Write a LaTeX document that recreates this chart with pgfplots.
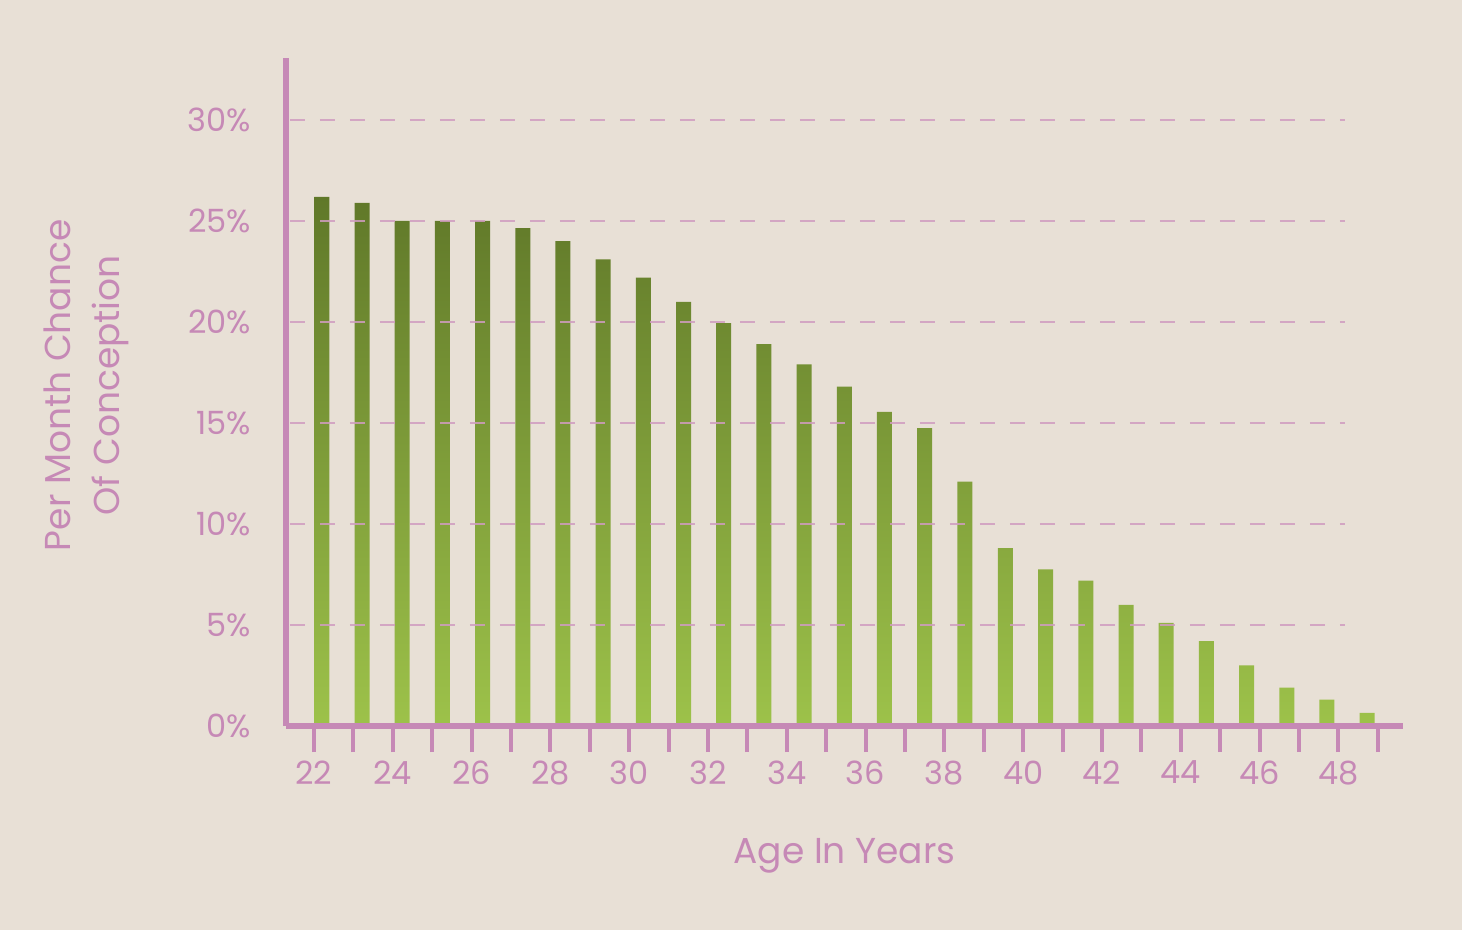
\documentclass[border=0pt]{standalone}
\usepackage{pgfplots}
\pgfplotsset{compat=1.18}
\usepackage{fontspec}
\setmainfont{Poppins}
\definecolor{bgc}{HTML}{E8E0D6}
\definecolor{pinkc}{HTML}{C689B6}
\definecolor{gridc}{HTML}{D09CC0}
\definecolor{gtop}{HTML}{607829}
\definecolor{gbot}{HTML}{9DC24A}
\begin{document}
\begin{tikzpicture}
\fill[bgc] (-143pt,-102pt) rectangle (588pt,363pt);
\begin{axis}[
  at={(0pt,0pt)}, anchor=south west,
  scale only axis, width=558.5pt, height=334pt,
  xmin=21.29, xmax=49.64, ymin=0, ymax=33.07,
  axis x line=bottom, axis y line=left,
  axis line style={-, line width=2.8pt, color=pinkc},
  axis on top, clip=false,
  xtick={22,...,49},
  xticklabels={22,,24,,26,,28,,30,,32,,34,,36,,38,,40,,42,,44,,46,,48,},
  ytick={0,5,10,15,20,25,30},
  yticklabels={0\%,5\%,10\%,15\%,20\%,25\%,30\%},
  tick align=outside, major tick length=13pt,
  xtick style={line width=2pt, color=pinkc},
  ytick style={draw=none},
  ticklabel style={font=\fontsize{16}{19}\selectfont, text=pinkc},
  xticklabel style={yshift=-1pt},
  yticklabel style={xshift=-1pt},
  xlabel={Age In Years},
  xlabel style={at={(axis description cs:0.5,-0.195)}, anchor=center, font=\fontsize{18}{22}\selectfont, text=pinkc},
  ylabel={Per Month Chance\\Of Conception},
  ylabel style={at={(axis description cs:-0.1785,0.51)}, anchor=center, rotate=0, align=center, font=\fontsize{18}{24.5}\selectfont, text=pinkc},
]
\addplot[ybar, bar width=7.5pt, draw=none, top color=gtop, bottom color=gbot] coordinates {
(22.20,26.2) (23.22,25.9) (24.24,25.0) (25.26,25.0) (26.28,25.0) (27.30,24.65)
(28.32,24.0) (29.34,23.1) (30.36,22.2) (31.38,21.0) (32.40,19.95) (33.42,18.9)
(34.44,17.9) (35.46,16.8) (36.48,15.55) (37.50,14.75) (38.52,12.1) (39.55,8.8)
(40.57,7.75) (41.59,7.2) (42.61,6.0) (43.63,5.1) (44.65,4.2) (45.67,3.0)
(46.69,1.9) (47.71,1.3) (48.73,0.65)
};
\foreach \yv in {5,10,15,20,25,30} {
  \addplot[gridc, line width=1pt, dash pattern=on 7.5pt off 7.5pt, opacity=0.85, forget plot] coordinates {(21.39,\yv) (48.17,\yv)};
}
\end{axis}
\end{tikzpicture}
\end{document}
